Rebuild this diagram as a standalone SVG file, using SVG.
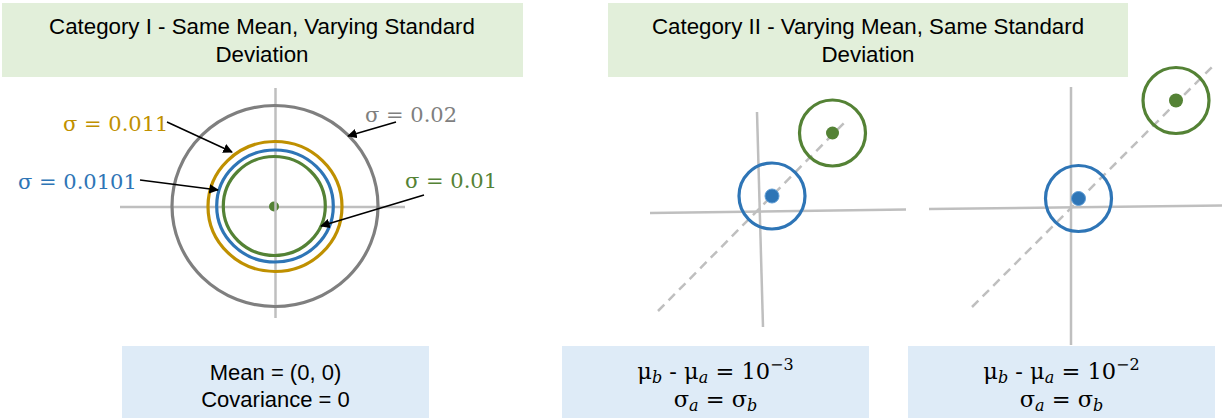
<svg xmlns="http://www.w3.org/2000/svg" width="1225" height="418" viewBox="0 0 1225 418">
  <style>
    .title { font-family: "Liberation Sans", Arial, sans-serif; font-size: 22.3px; fill: #000; text-anchor: middle; }
    .body { font-family: "Liberation Sans", Arial, sans-serif; font-size: 22px; fill: #000; text-anchor: middle; }
    .math { font-family: "DejaVu Serif", "Liberation Serif", serif; font-size: 22.5px; text-anchor: middle; fill: #000; }
    .lbl { font-family: "DejaVu Serif", "Liberation Serif", serif; font-size: 21px; }
    .gbox { fill: #e2efda; }
    .bbox { fill: #deebf7; }
    .axis { stroke: #bfbfbf; stroke-width: 2.5; fill: none; }
    .dash { stroke: #bfbfbf; stroke-width: 2.5; fill: none; stroke-dasharray: 9 6; }
    .ring { fill: none; stroke-width: 3.2; }
    .arrow { stroke: #000; stroke-width: 1.6; fill: none; marker-end: url(#ah); }
  </style>
  <defs>
    <marker id="ah" viewBox="0 0 10 10" refX="9" refY="5" markerWidth="6" markerHeight="6" markerUnits="strokeWidth" orient="auto">
      <path d="M0,0 L10,5 L0,10 Z" fill="#000"/>
    </marker>
  </defs>

  <g id="title1">
    <rect class="gbox" x="2" y="3" width="521" height="74"/>
    <text class="title" x="262" y="34">Category I - Same Mean, Varying Standard</text>
    <text class="title" x="262" y="62">Deviation</text>
  </g>
  <g id="title2">
    <rect class="gbox" x="608" y="3" width="520" height="74"/>
    <text class="title" x="868" y="34">Category II - Varying Mean, Same Standard</text>
    <text class="title" x="868" y="62">Deviation</text>
  </g>

  <g id="plot1">
    <line class="axis" x1="120" y1="207" x2="405" y2="207"/>
    <circle cx="274" cy="206.5" r="5" fill="#548235"/>
    <line class="axis" x1="275.5" y1="88" x2="275.5" y2="318"/>
    <ellipse class="ring" cx="275" cy="206" rx="103" ry="100.5" stroke="#7f7f7f"/>
    <ellipse class="ring" cx="275" cy="206.5" rx="67" ry="65" stroke="#bf9000"/>
    <ellipse class="ring" cx="275" cy="206" rx="58.3" ry="56" stroke="#2e75b6"/>
    <ellipse class="ring" cx="274.3" cy="206" rx="51" ry="49.5" stroke="#548235"/>
    <text class="lbl" x="63" y="131" fill="#bf9000">σ = 0.011</text>
    <text class="lbl" x="18" y="189" fill="#2e75b6">σ = 0.0101</text>
    <text class="lbl" x="365" y="122" fill="#7f7f7f">σ = 0.02</text>
    <text class="lbl" x="405" y="188" fill="#548235">σ = 0.01</text>
  </g>

  <g id="plot2">
    <line class="axis" x1="650" y1="213" x2="906" y2="209.5"/>
    <line class="axis" x1="757" y1="112" x2="763" y2="327"/>
    <line class="dash" x1="658" y1="311" x2="845" y2="122"/>
    <circle class="ring" cx="772" cy="196" r="33" stroke="#2e75b6"/>
    <circle cx="772" cy="196" r="7" fill="#2e75b6" stroke="#5b9bd5" stroke-width="1"/>
    <circle class="ring" cx="832.5" cy="133" r="33" stroke="#548235"/>
    <circle cx="832.5" cy="133" r="6.5" fill="#548235"/>
  </g>

  <g id="plot3">
    <line class="axis" x1="929" y1="209" x2="1222" y2="205.5"/>
    <line class="axis" x1="1071" y1="87" x2="1071" y2="345"/>
    <line class="dash" x1="972" y1="307" x2="1212" y2="67"/>
    <circle class="ring" cx="1078.5" cy="198.5" r="33" stroke="#2e75b6"/>
    <circle cx="1078.5" cy="198.5" r="7" fill="#2e75b6" stroke="#5b9bd5" stroke-width="1"/>
    <circle class="ring" cx="1176" cy="100.5" r="33" stroke="#548235"/>
    <circle cx="1176" cy="100.5" r="7" fill="#548235"/>
  </g>

  <g id="connectors">
    <line class="arrow" x1="167" y1="122" x2="232" y2="152"/>
    <line class="arrow" x1="140" y1="180" x2="218" y2="190"/>
    <line class="arrow" x1="396" y1="122" x2="348" y2="136"/>
    <line class="arrow" x1="424" y1="195" x2="321" y2="226"/>
  </g>

  <g id="info1">
    <rect class="bbox" x="122" y="346" width="307" height="72"/>
    <text class="body" x="275.5" y="380">Mean = (0, 0)</text>
    <text class="body" x="275.5" y="407">Covariance = 0</text>
  </g>
  <g id="info2">
    <rect class="bbox" x="562" y="346" width="307" height="72"/>
    <text class="math" x="715.5" y="379">μ<tspan font-style="italic" font-size="16" dy="4">b</tspan><tspan dy="-4"> - μ</tspan><tspan font-style="italic" font-size="16" dy="4">a</tspan><tspan dy="-4"> = 10</tspan><tspan font-size="16" dy="-9">−3</tspan></text>
    <text class="math" x="715.5" y="407">σ<tspan font-style="italic" font-size="16" dy="4">a</tspan><tspan dy="-4"> = σ</tspan><tspan font-style="italic" font-size="16" dy="4">b</tspan></text>
  </g>
  <g id="info3">
    <rect class="bbox" x="908" y="346" width="307" height="72"/>
    <text class="math" x="1061.5" y="379">μ<tspan font-style="italic" font-size="16" dy="4">b</tspan><tspan dy="-4"> - μ</tspan><tspan font-style="italic" font-size="16" dy="4">a</tspan><tspan dy="-4"> = 10</tspan><tspan font-size="16" dy="-9">−2</tspan></text>
    <text class="math" x="1061.5" y="407">σ<tspan font-style="italic" font-size="16" dy="4">a</tspan><tspan dy="-4"> = σ</tspan><tspan font-style="italic" font-size="16" dy="4">b</tspan></text>
  </g>
</svg>
